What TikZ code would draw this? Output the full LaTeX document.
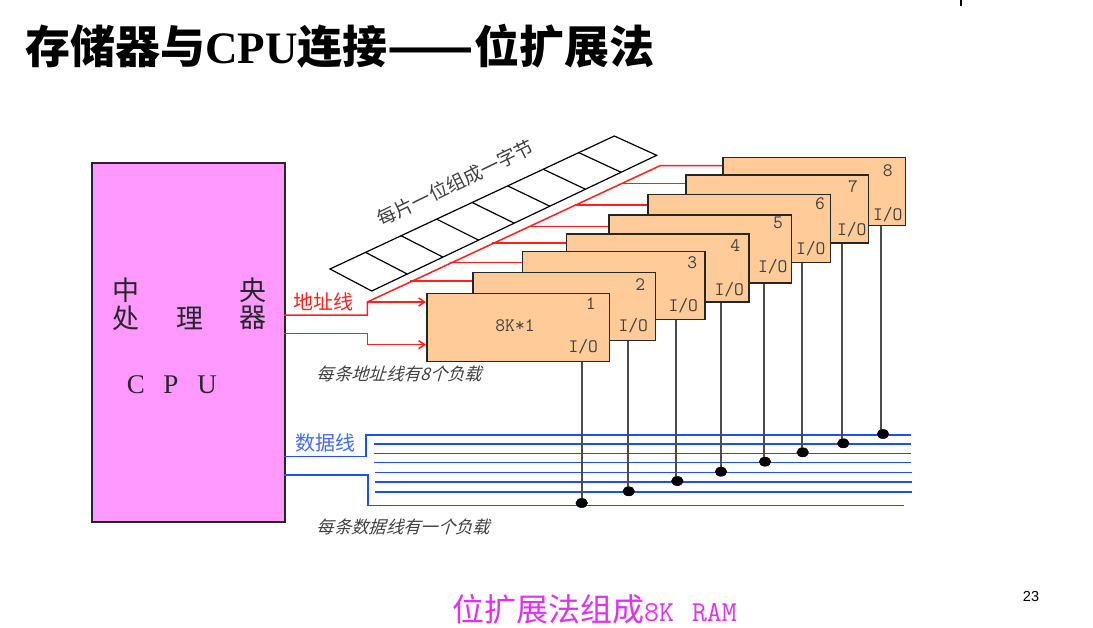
\documentclass[tikz,border=0pt]{standalone}
\usepackage{fontspec}
\usetikzlibrary{calc,arrows.meta,shapes.geometric}
\setmainfont{Liberation Serif}
\newfontfamily\cjk{Noto Sans CJK SC}
\newfontfamily\cjkb{Noto Sans CJK SC Black}
\newfontfamily\cjkit[FakeSlant=0.3]{Noto Sans CJK SC}
\newfontfamily\latinbold{Liberation Serif Bold}
\newfontfamily\arial{Liberation Sans}
\definecolor{chipfill}{HTML}{FFCC99}
\definecolor{cpufill}{HTML}{FF99FF}
\definecolor{addrred}{HTML}{FF2020}
\definecolor{databl}{HTML}{2050F0}
\definecolor{txtgrey}{HTML}{404040}
\definecolor{bottommag}{HTML}{E030F0}
\tikzset{
  chip/.style={draw=black!85,line width=1.5pt,fill=chipfill,anchor=north west,inner sep=0pt,minimum height=68pt,minimum width=182.5pt},
  addr/.style={draw=addrred,line width=1.5pt},
  addrarrow/.style={addr,-{Straight Barb[length=6pt,width=8pt]}},
  data/.style={draw=databl,line width=1.5pt},
  iol/.style={draw=black!70,line width=2pt},
  strip/.style={draw=black,line width=1.2pt},
  dot/.style={ellipse,fill=black,inner sep=0pt,minimum width=12pt,minimum height=9.5pt},
  lab/.style={inner sep=0pt,font=\fontsize{19}{19}\selectfont\ttfamily,text=txtgrey},
  cj/.style={inner sep=0pt,font=\fontsize{27}{27}\selectfont\cjk,text=black!85},
  cl/.style={inner sep=0pt,font=\fontsize{27}{27}\selectfont\rmfamily,text=black!85},
  note/.style={inner sep=0pt,anchor=west,font=\fontsize{17.3}{17.3}\selectfont\cjkit,text=txtgrey},
}
\begin{document}
\begin{tikzpicture}[x=1pt,y=-1pt]
\useasboundingbox (0,0) rectangle (1093,627);
\node[inner sep=0pt,anchor=west] (title) at (25,46) {\fontsize{45}{45}\selectfont\cjkb 存储器与{\latinbold CPU}连接\scalebox{1.12}[1]{——}位扩展法};
\coordinate (tickA) at (961,0); \coordinate (tickB) at (961,6);
\draw[black,line width=1.2pt] (tickA) -- (tickB);

% cpu
\node[draw=black!85,line width=1.5pt,fill=cpufill,anchor=north west,inner sep=0pt,minimum width=193pt,minimum height=359pt] (cpu) at (91,162) {};
\node[cj] (c1) at (125.5,290) {中};
\node[cj] (c2) at (253,290) {央};
\node[cj] (c3) at (125.5,318) {处};
\node[cj] (c4) at (190,318) {理};
\node[cj] (c5) at (253,318) {器};
\node[cl] (c6) at (136,385) {C};
\node[cl] (c7) at (171,385) {P};
\node[cl] (c8) at (207,385) {U};

% strip
\coordinate (sa) at (330,269); \coordinate (sb) at (614.3,136);
\coordinate (sc) at (656.7,155.3); \coordinate (sd) at (371.7,291);
\draw[strip] (sa) -- (sb) -- (sc) -- (sd) -- cycle;
\foreach \k in {1,...,7}{\draw[strip] ($(sa)!\k/8!(sb)$) -- ($(sd)!\k/8!(sc)$);}
\node[inner sep=0pt,rotate=26,text=txtgrey] (striplabel) at (455.5,183) {\fontsize{19}{19}\selectfont\cjk 每片一位组成一字节};

\coordinate (ra) at (367.3,302); \coordinate (rb) at (660.5,165.5);
\coordinate (rc) at (367.3,315); \coordinate (rd) at (367.3,333); \coordinate (re) at (367.3,344.7);
\coordinate (ja) at (410,281); \coordinate (jb) at (450,262.7); \coordinate (jc) at (491.7,243);
\coordinate (jd) at (528,226.3); \coordinate (je) at (575,205); \coordinate (jf) at (623.3,183.3);
\coordinate (cpuA) at (284,315); \coordinate (cpuB) at (284,333);

% address lines
\draw[addr] (cpuA) -- (rc) -- (ra) -- (rb) -- (722.3,165.5);
\draw[addr] (ja) -- (472,281);
\draw[addr] (jb) -- (521.7,262.7);
\draw[addr] (jc) -- (565.7,243);
\draw[addr,line width=0.9pt] (jd) -- (608.3,226.3);
\draw[addr] (je) -- (647.3,205);
\draw[addr] (jf) -- (685.3,183.3);
\draw[addr,line width=0.8pt] (cpuB) -- (rd);

% data bus
\coordinate (ba) at (284,456.7); \coordinate (bb) at (366,456.7); \coordinate (bc) at (366,435); \coordinate (bd) at (911,435);
\coordinate (be) at (284,475); \coordinate (bf) at (368,475); \coordinate (bg) at (368,505.3); \coordinate (bh) at (904,505.3);
\draw[data] (ba) -- (bb) -- (bc) -- (bd);
\draw[data] (be) -- (bf) -- (bg) -- (bh);
\foreach \y/\a/\b in {444/374.3/911,453.3/374.3/911,462.3/374.3/911,472.7/375/912.3,482/375/912.3,492/375/912.3}{
  \draw[data] (\a,\y) coordinate (bl) -- (\b,\y) coordinate (br);
}

% chips, painted from 8 to 1
\foreach \n/\x/\y in {8/722.3/156.7,7/685.3/174.3,6/647.3/193.7,5/608.3/214,4/565.7/233,3/521.7/250.5,2/472/271.7,1/426/292.5}{
  \node[chip] (m\n) at (\x,\y) {};
}
\draw[addrarrow] (ra) -- (ra -| m1.west);
\draw[addr] (rd) -- (re);
\draw[addrarrow] (re) -- (re -| m1.west);

% chip labels
\foreach \n/\x/\y/\ix/\iy in {1/590.7/303.3/583.3/346.7,2/640.3/285/633.3/325.7,3/692.3/262.3/683.3/306,4/735.3/245.7/729.3/289.3,5/778/222.7/772.7/267,6/820/203.3/810.7/249,7/853/186.7/851.7/229.7,8/887.7/170.7/887.7/214.7}{
  \node[lab] (n\n) at (\x,\y) {\n};
  \node[lab] (io\n) at (\ix,\iy) {I/O};
}
\node[lab] (kind) at (515,326) {8K*1};

% I/O stubs and dots
\foreach \n/\x/\y/\lx in {1/581.7/503/581.7,2/628.7/491.3/628,3/677.3/481/676.3,4/721/471.7/721.3,5/765/461.7/764,6/802.7/452.3/802,7/843.3/443.3/842.3,8/883/434/881.3}{
  \node[dot] (d\n) at (\x,\y) {};
  \draw[iol] (\lx,\y) -- (m\n.south -| \lx,\y);
  \node[dot] at (d\n) {};
}

% labels
\node[inner sep=0pt,text=addrred] (addrlab) at (323.5,301.7) {\fontsize{20}{20}\selectfont\cjk 地址线};
\node[inner sep=0pt,text=databl!85] (datalab) at (325,443) {\fontsize{20}{20}\selectfont\cjk 数据线};
\node[note] (note1) at (316.7,374.3) {每条地址线有8个负载};
\node[note] (note2) at (316.7,526.7) {每条数据线有一个负载};
\node[inner sep=0pt,anchor=west,text=bottommag] (caption) at (452,609) {\fontsize{32}{32}\selectfont\cjk 位扩展法组成\fontsize{29}{29}\selectfont\ttfamily 8K\hspace{18pt}RAM};
\node[inner sep=0pt,anchor=center] (page) at (1031,597) {\fontsize{14.5}{14.5}\selectfont\arial 23};
\end{tikzpicture}
\end{document}
